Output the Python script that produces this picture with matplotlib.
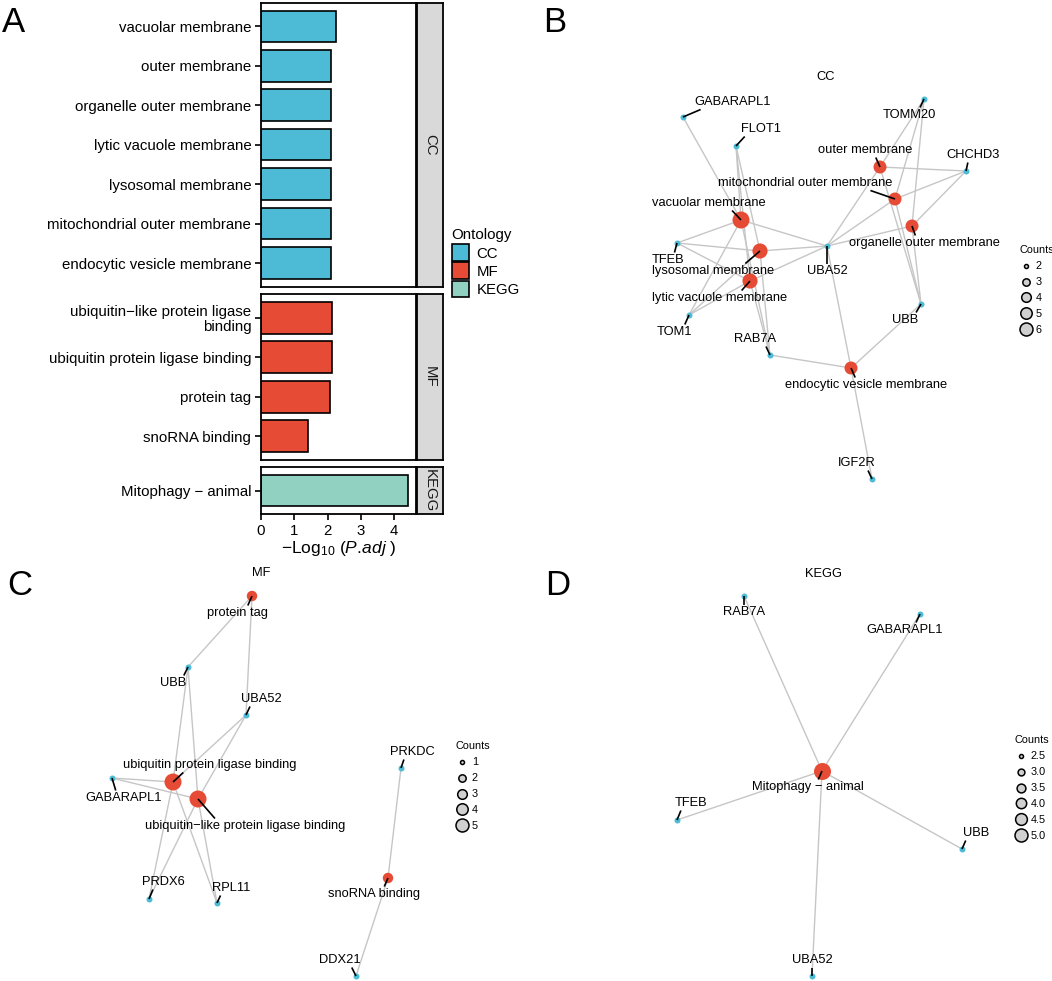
import matplotlib
matplotlib.use('Agg')
import matplotlib.pyplot as plt
from matplotlib.patches import Patch
from matplotlib.lines import Line2D

plt.rcParams['font.family'] = ['Liberation Sans', 'DejaVu Sans']
plt.rcParams['mathtext.fontset'] = 'custom'
plt.rcParams['mathtext.rm'] = 'Liberation Sans'
plt.rcParams['mathtext.it'] = 'Liberation Sans:italic'

W, H = 1052, 981

# ---- panel A data: -log10(p.adj) per enriched term
cc_terms = ['vacuolar membrane', 'outer membrane', 'organelle outer membrane',
            'lytic vacuole membrane', 'lysosomal membrane',
            'mitochondrial outer membrane', 'endocytic vesicle membrane']
cc_vals = [2.24, 2.10, 2.10, 2.10, 2.10, 2.10, 2.10]
mf_terms = ['ubiquitin\u2212like protein ligase\nbinding', 'ubiquitin protein ligase binding',
            'protein tag', 'snoRNA binding']
mf_vals = [2.12, 2.12, 2.07, 1.41]
kegg_terms = ['Mitophagy \u2212 animal']
kegg_vals = [4.42]
onto_names = ['CC', 'MF', 'KEGG']
onto_colors = ['#4DBBD5', '#E64B35', '#91D1C2']

# ---- panel B (CC network)
b_terms = ['vacuolar membrane', 'lysosomal membrane', 'lytic vacuole membrane',
           'outer membrane', 'mitochondrial outer membrane', 'organelle outer membrane',
           'endocytic vesicle membrane']
b_counts = [6, 5, 5, 4, 4, 4, 4]
b_genes = [['GABARAPL1', 'FLOT1', 'TFEB', 'TOM1', 'RAB7A', 'UBA52'],
           ['FLOT1', 'TFEB', 'TOM1', 'RAB7A', 'UBA52'],
           ['FLOT1', 'TFEB', 'TOM1', 'RAB7A', 'UBA52'],
           ['TOMM20', 'CHCHD3', 'UBA52', 'UBB'],
           ['TOMM20', 'CHCHD3', 'UBA52', 'UBB'],
           ['TOMM20', 'CHCHD3', 'UBA52', 'UBB'],
           ['RAB7A', 'UBA52', 'UBB', 'IGF2R']]
b_legend = [2, 3, 4, 5, 6]

# ---- panel C (MF network)
c_terms = ['protein tag', 'ubiquitin protein ligase binding',
           'ubiquitin\u2212like protein ligase binding', 'snoRNA binding']
c_counts = [2, 5, 5, 2]
c_genes = [['UBB', 'UBA52'],
           ['GABARAPL1', 'UBB', 'UBA52', 'PRDX6', 'RPL11'],
           ['GABARAPL1', 'UBB', 'UBA52', 'PRDX6', 'RPL11'],
           ['PRKDC', 'DDX21']]
c_legend = [1, 2, 3, 4, 5]

# ---- panel D (KEGG network)
d_terms = ['Mitophagy \u2212 animal']
d_counts = [5]
d_genes = [['RAB7A', 'GABARAPL1', 'TFEB', 'UBB', 'UBA52']]
d_legend = [2.5, 3.0, 3.5, 4.0, 4.5, 5.0]

# layouts (force-directed layout coordinates, per panel) and label spots
b_layout = {'GABARAPL1': (153, 77), 'FLOT1': (206, 106), 'TOMM20': (394, 59),
            'CHCHD3': (436, 131), 'TFEB': (147, 203), 'UBA52': (297, 206),
            'TOM1': (159, 275), 'RAB7A': (240, 315), 'UBB': (391, 264),
            'IGF2R': (342, 439),
            'vacuolar membrane': (211, 180), 'lysosomal membrane': (230, 211),
            'lytic vacuole membrane': (220, 241), 'outer membrane': (350, 127),
            'mitochondrial outer membrane': (365, 159),
            'organelle outer membrane': (382, 186),
            'endocytic vesicle membrane': (321, 328)}
b_labels = {'GABARAPL1': (203, 62), 'FLOT1': (231, 89), 'TOMM20': (379, 75),
            'CHCHD3': (443, 115), 'TFEB': (138, 220), 'UBA52': (297, 231),
            'TOM1': (144, 292), 'RAB7A': (225, 299), 'UBB': (375, 280),
            'IGF2R': (327, 423),
            'vacuolar membrane': (179, 163), 'lysosomal membrane': (183, 231),
            'lytic vacuole membrane': (190, 258), 'outer membrane': (335, 110),
            'mitochondrial outer membrane': (275, 143),
            'organelle outer membrane': (394, 203),
            'endocytic vesicle membrane': (336, 345)}
c_layout = {'protein tag': (252, 46), 'UBB': (188, 117), 'UBA52': (246, 165),
            'ubiquitin protein ligase binding': (173, 232), 'GABARAPL1': (112, 228),
            'ubiquitin\u2212like protein ligase binding': (198, 249),
            'PRDX6': (149, 349), 'RPL11': (217, 353), 'PRKDC': (401, 218),
            'snoRNA binding': (388, 328), 'DDX21': (356, 426)}
c_labels = {'protein tag': (237, 63), 'UBB': (173, 133), 'UBA52': (261, 149),
            'ubiquitin protein ligase binding': (210, 215), 'GABARAPL1': (124, 248),
            'ubiquitin\u2212like protein ligase binding': (245, 276),
            'PRDX6': (163, 332), 'RPL11': (231, 338), 'PRKDC': (412, 202),
            'snoRNA binding': (374, 344), 'DDX21': (340, 410)}
d_layout = {'RAB7A': (214, 46), 'GABARAPL1': (390, 64), 'Mitophagy \u2212 animal': (292, 221),
            'TFEB': (147, 270), 'UBB': (432, 299), 'UBA52': (282, 426)}
d_labels = {'RAB7A': (214, 62), 'GABARAPL1': (375, 80), 'Mitophagy \u2212 animal': (278, 237),
            'TFEB': (161, 253), 'UBB': (446, 283), 'UBA52': (282, 410)}

fig = plt.figure(figsize=(W / 100, H / 100), dpi=100)


def px_axes(x0, y0, x1, y1):
    return fig.add_axes([x0 / W, 1 - y1 / H, (x1 - x0) / W, (y1 - y0) / H])


# ================= panel A =================
fs = 10.8
groups = [(cc_terms, cc_vals, 2.7, 286.7), (mf_terms, mf_vals, 294, 460),
          (kegg_terms, kegg_vals, 467, 514)]
for i, (terms, vals, top, bot) in enumerate(groups):
    ax = px_axes(261, top, 415.6, bot)
    n = len(terms)
    ax.barh(range(n), vals, height=0.8, color=onto_colors[i], edgecolor='black', lw=1.2)
    ax.set_ylim(n - 0.4, -0.6)
    ax.set_xlim(0, 4.64)
    ax.set_yticks(range(n))
    ax.set_yticklabels(terms, fontsize=fs, linespacing=1.05)
    ax.tick_params(axis='y', length=4, width=1.2, pad=3)
    for sp in ax.spines.values():
        sp.set_linewidth(1.3)
    if i < 2:
        ax.set_xticks([])
    else:
        ax.set_xticks([0, 1, 2, 3, 4])
        ax.tick_params(axis='x', length=4, width=1.2, labelsize=fs, pad=3)
        ax.set_xlabel('\u2212Log$_{10}$ ($\\mathit{P.\\!adj}$ )', fontsize=12.5, labelpad=1)
    st = px_axes(417, top, 443, bot)
    st.set_facecolor('#D9D9D9')
    st.set_xticks([])
    st.set_yticks([])
    for sp in st.spines.values():
        sp.set_linewidth(1.3)
    st.text(0.5, 0.5, onto_names[i], rotation=-90, ha='center', va='center',
            fontsize=fs, color='#1A1A1A', transform=st.transAxes)

handles = [Patch(facecolor=c, edgecolor='black', lw=1.2) for c in onto_colors]
fig.legend(handles, onto_names, title='Ontology', loc='upper left',
           bbox_to_anchor=(441 / W, 1 - 218 / H), frameon=False, fontsize=fs,
           title_fontsize=fs, handlelength=1.15, handleheight=1.3, labelspacing=0.12,
           handletextpad=0.5, borderpad=0.2, alignment='left')


# ================= networks =================
def diam(c, lo, hi, d0, d1):
    t = (c - lo) / (hi - lo)
    return (d0 ** 2 + (d1 ** 2 - d0 ** 2) * t) ** 0.5


net_axes = []


def network(box, terms, counts, genes, layout, labels, leg_vals, title, title_xy, leg_xy):
    x0, y0, x1, y1 = box
    ax = px_axes(x0, y0, x1, y1)
    ax.set_xlim(0, x1 - x0)
    ax.set_ylim(y1 - y0, 0)
    ax.axis('off')
    lo, hi = min(leg_vals), max(leg_vals)
    all_genes = []
    for t, gl in zip(terms, genes):
        for g in gl:
            ax.plot([layout[t][0], layout[g][0]], [layout[t][1], layout[g][1]],
                    color='#C6C6C6', lw=1.0, zorder=1)
            if g not in all_genes:
                all_genes.append(g)
    ax.scatter([layout[g][0] for g in all_genes], [layout[g][1] for g in all_genes],
               s=(6 * 0.72) ** 2, color='#4DBBD5', zorder=3, lw=0)
    ax.scatter([layout[t][0] for t in terms], [layout[t][1] for t in terms],
               s=[(diam(c, lo, hi, 7, 17) * 0.72) ** 2 for c in counts],
               color='#E64B35', zorder=3, lw=0)
    texts = []
    for name in list(terms) + all_genes:
        tx = ax.text(labels[name][0], labels[name][1], name, ha='center', va='center',
                     fontsize=9.3, zorder=4)
        texts.append((tx, labels[name], layout[name]))
    ax.text(title_xy[0], title_xy[1], title, ha='center', va='center', fontsize=9.3)
    hs = [Line2D([], [], marker='o', ls='', ms=diam(v, lo, hi, 4, 13) * 0.72,
                 mfc='#D0D0D0', mec='black', mew=1.1) for v in leg_vals]
    ax.legend(hs, [f'{v:g}' if isinstance(v, int) else f'{v:.1f}' for v in leg_vals],
              title='Counts', loc='upper left', bbox_to_anchor=(leg_xy[0] / (x1 - x0),
              1 - leg_xy[1] / (y1 - y0)), frameon=False, fontsize=7.8, title_fontsize=7.8,
              labelspacing=0.55, handletextpad=0.3, handlelength=1.2, borderpad=0,
              alignment='left')
    net_axes.append((ax, texts))


network((530, 40, 1052, 500), b_terms, b_counts, b_genes, b_layout, b_labels, b_legend,
        'CC', (296, 37), (484, 200))
network((0, 550, 520, 981), c_terms, c_counts, c_genes, c_layout, c_labels, c_legend,
        'MF', (261, 23), (450, 186))
network((530, 550, 1052, 981), d_terms, d_counts, d_genes, d_layout, d_labels, d_legend,
        'KEGG', (293, 24), (479, 180))

# repel-style segments from the label box to its node
fig.canvas.draw()
renderer = fig.canvas.get_renderer()
for ax, texts in net_axes:
    inv = ax.transData.inverted()
    for tx, (cx, cy), (nx, ny) in texts:
        bb = tx.get_window_extent(renderer)
        (xa, ya), (xb, yb) = inv.transform([(bb.x0 - 1.5, bb.y0 - 1.5), (bb.x1 + 1.5, bb.y1 + 1.5)])
        lx0, lx1 = min(xa, xb), max(xa, xb)
        ly0, ly1 = min(ya, yb), max(ya, yb)
        # nearest point of the box
        px = min(max(nx, lx0), lx1)
        py = min(max(ny, ly0), ly1)
        # where the centre->node line leaves the box
        dx, dy = nx - cx, ny - cy
        tx_ = (lx1 - lx0) / 2 / abs(dx) if dx else 1e9
        ty_ = (ly1 - ly0) / 2 / abs(dy) if dy else 1e9
        t = min(tx_, ty_)
        if t >= 1:
            continue
        ix, iy = cx + t * dx, cy + t * dy
        sx, sy = (px + ix) / 2, (py + iy) / 2
        if ((sx - nx) ** 2 + (sy - ny) ** 2) ** 0.5 > 2:
            ax.plot([sx, nx], [sy, ny], color='black', lw=1.2, zorder=3.5,
                    solid_capstyle='butt')

for letter, x, y in [('A', 2, 32), ('B', 543, 32), ('C', 7, 595), ('D', 545, 595)]:
    fig.text(x / W, 1 - y / H, letter, fontsize=25, ha='left', va='baseline')

fig.savefig('out.png', dpi=100)
